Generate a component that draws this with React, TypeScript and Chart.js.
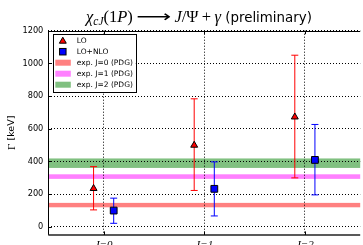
import React, { useEffect, useRef } from 'react';
import { Chart, registerables } from 'chart.js';

Chart.register(...registerables);

// ---------- data ----------
const categories = ['J=0', 'J=1', 'J=2'];
const yTickValues = [0, 200, 400, 600, 800, 1000, 1200];
const seriesLabels = ['LO', 'LO+NLO'];
const loCentral = [234, 499, 672];
const loLower = [103, 222, 299];
const loUpper = [368, 783, 1050];
const nloCentral = [99, 232, 409];
const nloLower = [21, 66, 195];
const nloUpper = [175, 397, 626];
const bandLabels = ['exp. J=0 (PDG)', 'exp. J=1 (PDG)', 'exp. J=2 (PDG)'];
const bandLower = [119, 293, 360];
const bandUpper = [146, 321, 418];

// ---------- style ----------
const W = 366;
const H = 262;
const OFFSET = 0.1;
const RED = '#ff0000';
const BLUE = '#0000ff';
const bandColors = ['#ff8080', '#ff80ff', '#80c080'];
const SERIF = '"Liberation Serif", "DejaVu Serif", serif';
const SANS = '"DejaVu Sans", sans-serif';

const drawTriangle = (ctx: CanvasRenderingContext2D, cx: number, cy: number, r: number) => {
  ctx.beginPath();
  ctx.moveTo(cx, cy - r);
  ctx.lineTo(cx + r * 0.866, cy + r * 0.5);
  ctx.lineTo(cx - r * 0.866, cy + r * 0.5);
  ctx.closePath();
  ctx.fillStyle = RED;
  ctx.fill();
  ctx.strokeStyle = '#000';
  ctx.lineWidth = 1;
  ctx.stroke();
};
const drawSquare = (ctx: CanvasRenderingContext2D, cx: number, cy: number, s: number) => {
  ctx.fillStyle = BLUE;
  ctx.fillRect(cx - s / 2, cy - s / 2, s, s);
  ctx.strokeStyle = '#000';
  ctx.lineWidth = 1;
  ctx.strokeRect(cx - s / 2, cy - s / 2, s, s);
};

const bandPlugin = {
  id: 'bands',
  beforeDraw(chart: any) {
    const { ctx, chartArea, scales } = chart;
    const y = scales.y;
    ctx.save();
    bandLower.forEach((lo: number, i: number) => {
      const y1 = y.getPixelForValue(bandUpper[i]);
      const y2 = y.getPixelForValue(lo);
      ctx.fillStyle = bandColors[i];
      ctx.fillRect(chartArea.left, y1, chartArea.right - chartArea.left, y2 - y1);
    });
    ctx.restore();
  },
};

const errorBarPlugin = {
  id: 'errorBars',
  beforeDatasetsDraw(chart: any) {
    const { ctx, scales } = chart;
    const x = scales.x;
    const y = scales.y;
    const series = [
      { c: loCentral, lo: loLower, hi: loUpper, off: -OFFSET, color: RED },
      { c: nloCentral, lo: nloLower, hi: nloUpper, off: OFFSET, color: BLUE },
    ];
    ctx.save();
    ctx.lineWidth = 1;
    series.forEach((s) => {
      ctx.strokeStyle = s.color;
      s.c.forEach((_v: number, i: number) => {
        const px = x.getPixelForValue(i + s.off);
        const y1 = y.getPixelForValue(s.lo[i]);
        const y2 = y.getPixelForValue(s.hi[i]);
        ctx.beginPath();
        ctx.moveTo(px, y1);
        ctx.lineTo(px, y2);
        ctx.moveTo(px - 3.5, y1);
        ctx.lineTo(px + 3.5, y1);
        ctx.moveTo(px - 3.5, y2);
        ctx.lineTo(px + 3.5, y2);
        ctx.stroke();
      });
    });
    ctx.restore();
  },
};

const decorPlugin = {
  id: 'decor',
  afterDraw(chart: any) {
    const { ctx, chartArea, scales } = chart;
    const { left, right, top, bottom } = chartArea;
    const x = scales.x;
    const y = scales.y;
    ctx.save();
    // frame
    ctx.strokeStyle = '#000';
    ctx.lineWidth = 1;
    ctx.beginPath();
    ctx.moveTo(Math.round(left) + 0.5, top);
    ctx.lineTo(Math.round(left) + 0.5, bottom);
    ctx.moveTo(left, Math.round(top) + 0.5);
    ctx.lineTo(right, Math.round(top) + 0.5);
    ctx.stroke();
    ctx.lineWidth = 1.5;
    ctx.strokeStyle = '#222';
    ctx.beginPath();
    ctx.moveTo(left, bottom);
    ctx.lineTo(right, bottom);
    ctx.stroke();
    // inner ticks
    ctx.lineWidth = 1;
    ctx.strokeStyle = '#000';
    ctx.beginPath();
    categories.forEach((_c, i) => {
      const px = Math.round(x.getPixelForValue(i)) + 0.5;
      ctx.moveTo(px, bottom);
      ctx.lineTo(px, bottom - 3.5);
      ctx.moveTo(px, top);
      ctx.lineTo(px, top + 3.5);
    });
    yTickValues.forEach((v) => {
      const py = Math.round(y.getPixelForValue(v)) + 0.5;
      ctx.moveTo(left, py);
      ctx.lineTo(left + 3.5, py);
    });
    ctx.stroke();

    // legend
    const bx = left + 4.5;
    const by = top + 3.5;
    const bw = 83;
    const bh = 58;
    ctx.fillStyle = '#fff';
    ctx.fillRect(bx, by, bw, bh);
    ctx.strokeStyle = '#000';
    ctx.lineWidth = 1;
    ctx.strokeRect(Math.round(bx) + 0.5, Math.round(by) + 0.5, bw, bh);
    const rowY = (i: number) => by + 6.5 + i * 11;
    const mx = bx + 10;
    const tx = bx + 24;
    drawTriangle(ctx, mx, rowY(0) + 0.5, 4);
    drawSquare(ctx, mx, rowY(1), 6.5);
    bandLabels.forEach((_l, i) => {
      ctx.fillStyle = bandColors[i];
      ctx.fillRect(bx + 2.5, rowY(2 + i) - 3, 15.5, 6);
    });
    ctx.fillStyle = '#000';
    ctx.font = `7.5px ${SANS}`;
    ctx.textBaseline = 'middle';
    ctx.textAlign = 'left';
    const texts = [...seriesLabels, ...bandLabels];
    texts.forEach((t, i) => ctx.fillText(t, tx, rowY(i) + 0.5));

    // title
    const segs: { t: string; f: string; dy?: number; w?: number }[] = [
      { t: 'χ', f: `italic 16.5px ${SERIF}` },
      { t: 'cJ', f: `italic 11.5px ${SERIF}`, dy: 3 },
      { t: '(1', f: `16.5px ${SERIF}` },
      { t: 'P', f: `italic 16.5px ${SERIF}` },
      { t: ')', f: `16.5px ${SERIF}` },
      { t: '\u2009', f: `16.5px ${SERIF}` },
      { t: '⟶', f: `16px ${SANS}`, w: 35 },
      { t: '\u2009', f: `16.5px ${SERIF}` },
      { t: 'J', f: `italic 16.5px ${SERIF}` },
      { t: '/Ψ\u2009+\u2009', f: `16.5px ${SERIF}` },
      { t: 'γ', f: `italic 16.5px ${SERIF}` },
      { t: ' (preliminary)', f: `13.4px ${SANS}` },
    ];
    ctx.textBaseline = 'alphabetic';
    const widths = segs.map((s) => {
      ctx.font = s.f;
      return s.w ?? ctx.measureText(s.t).width;
    });
    const total = widths.reduce((a, b) => a + b, 0);
    let cx = 199 - total / 2;
    const base = 22;
    segs.forEach((s, i) => {
      ctx.font = s.f;
      if (s.w) {
        const nat = ctx.measureText(s.t).width;
        ctx.save();
        ctx.translate(cx, base - 4);
        ctx.scale(s.w / nat, 1);
        ctx.fillText(s.t, 0, 4);
        ctx.restore();
      } else {
        ctx.fillText(s.t, cx, base + (s.dy ?? 0));
      }
      cx += widths[i];
    });

    // y label
    ctx.save();
    ctx.translate(12, (top + bottom) / 2);
    ctx.rotate(-Math.PI / 2);
    ctx.textBaseline = 'middle';
    ctx.font = `11px ${SERIF}`;
    const g = 'Γ';
    const rest = ' [keV]';
    const gw = ctx.measureText(g).width;
    ctx.font = `9.5px ${SANS}`;
    const rw = ctx.measureText(rest).width;
    let sx = -(gw + rw) / 2;
    ctx.font = `11px ${SERIF}`;
    ctx.fillText(g, sx, 0);
    sx += gw;
    ctx.font = `9.5px ${SANS}`;
    ctx.fillText(rest, sx, 0);
    ctx.restore();

    ctx.restore();
  },
};

export default function App() {
  const canvasRef = useRef<HTMLCanvasElement | null>(null);

  useEffect(() => {
    if (!canvasRef.current) return;
    const chart = new Chart(canvasRef.current, {
      type: 'scatter',
      data: {
        datasets: [
          {
            label: seriesLabels[0],
            data: loCentral.map((v, i) => ({ x: i - OFFSET, y: v })),
            pointStyle: 'triangle',
            pointRadius: 4,
            pointHoverRadius: 4,
            backgroundColor: RED,
            borderColor: '#000',
            borderWidth: 1,
          },
          {
            label: seriesLabels[1],
            data: nloCentral.map((v, i) => ({ x: i + OFFSET, y: v })),
            pointStyle: 'rect',
            pointRadius: 4.8,
            pointHoverRadius: 4.8,
            backgroundColor: BLUE,
            borderColor: '#000',
            borderWidth: 1,
          },
        ],
      },
      options: {
        responsive: false,
        animation: false,
        devicePixelRatio: 1,
        layout: { padding: { top: 30.7, left: 0, right: 0, bottom: 0 } },
        plugins: {
          legend: { display: false },
          title: { display: false },
          tooltip: { enabled: false },
        },
        scales: {
          x: {
            type: 'linear',
            min: -0.55,
            max: 2.55,
            afterBuildTicks: (scale: any) => {
              scale.ticks = categories.map((_c, i) => ({ value: i }));
            },
            afterFit: (scale: any) => {
              scale.height = H - 234.9;
            },
            ticks: {
              callback: (v: any) => categories[Math.round(Number(v))] ?? '',
              font: { family: SERIF, style: 'italic', size: 11 },
              color: '#000',
              padding: 4,
              maxRotation: 0,
            },
            grid: { color: '#000', lineWidth: 1, drawTicks: false },
            border: { display: false, dash: [1, 2] },
          },
          y: {
            type: 'linear',
            min: -50,
            max: 1200,
            afterBuildTicks: (scale: any) => {
              scale.ticks = yTickValues.map((v) => ({ value: v }));
            },
            afterFit: (scale: any) => {
              scale.width = 48.3;
            },
            ticks: {
              callback: (v: any) => String(v),
              font: { family: SANS, size: 8.2 },
              color: '#000',
              padding: 5,
            },
            grid: { color: '#000', lineWidth: 1, drawTicks: false },
            border: { display: false, dash: [1, 2] },
          },
        },
      },
      plugins: [bandPlugin, errorBarPlugin, decorPlugin],
    });
    return () => chart.destroy();
  }, []);

  return (
    <div
      style={{
        position: 'fixed',
        left: 0,
        top: 0,
        width: 363,
        height: 245,
        overflow: 'hidden',
        background: '#fff',
      }}
    >
      <canvas ref={canvasRef} width={W} height={H} style={{ display: 'block' }} />
    </div>
  );
}
